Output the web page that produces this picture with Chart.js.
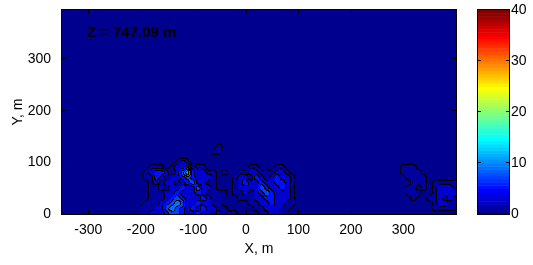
<!DOCTYPE html>
<html>
<head>
<meta charset="utf-8">
<script src="https://cdn.jsdelivr.net/npm/chart.js@4.4.1/dist/chart.umd.min.js"></script>
<style>
  html, body { margin: 0; padding: 0; background: #fff; }
  #wrap { width: 533px; height: 265px; }
</style>
</head>
<body>
<div id="wrap"><canvas id="myChart" width="533" height="265"></canvas></div>
<script>
// tengelyek
const xTicks = [-300, -200, -100, 0, 100, 200, 300];
const yTicks = [0, 100, 200, 300];
const cTicks = [0, 10, 20, 30, 40];
const contourLevels = [1, 3, 5, 7, 9, 11, 13, 15, 17, 19, 21, 23, 25, 27, 29, 31, 33, 35, 37, 39];
const planeLabel = 'Z = 747.09 m';

// mért értékek 10 m-es rácson, sorok felülről lefelé
// A folt: x = -200 ... -30, y = 130 ... 0
const blobA_x0 = -200;
const blobA_yTop = 130;
const blobA = [
    [0, 0, 0, 0, 0, 0, 0, 0, 0, 0, 0, 0, 0, 0, 0, 2, 0, 0],
    [0, 0, 0, 0, 0, 0, 0, 0, 0, 0, 0, 0, 0, 0, 2, 2, 0, 0],
    [0, 0, 0, 0, 0, 0, 0, 0, 0, 0, 0, 0, 0, 0, 0, 0, 0, 0],
    [0, 0, 0, 0, 0, 0, 0, 2, 4, 2, 0, 0, 0, 0, 0, 0, 0, 0],
    [0, 0, 2, 2, 2, 0, 2, 4, 4, 6, 4, 2, 2, 0, 0, 0, 0, 0],
    [0, 2, 4, 6, 6, 4, 2, 4, 8, 12, 6, 4, 4, 2, 2, 0, 2, 0],
    [0, 2, 2, 6, 4, 2, 4, 4, 6, 8, 6, 4, 4, 4, 2, 0, 0, 0],
    [0, 0, 2, 4, 2, 4, 4, 2, 4, 6, 8, 4, 4, 2, 2, 0, 0, 0],
    [0, 0, 2, 2, 4, 2, 4, 4, 6, 4, 4, 8, 4, 4, 2, 0, 0, 0],
    [0, 0, 2, 2, 2, 4, 4, 6, 4, 4, 4, 6, 4, 2, 2, 2, 2, 0],
    [0, 0, 2, 2, 2, 4, 6, 8, 6, 4, 4, 4, 6, 4, 2, 2, 0, 0],
    [0, 2, 2, 2, 4, 6, 8, 10, 8, 4, 4, 6, 4, 4, 2, 2, 0, 0],
    [2, 2, 2, 4, 4, 8, 10, 8, 6, 4, 6, 4, 6, 4, 4, 2, 2, 0],
    [2, 2, 4, 4, 4, 6, 8, 8, 6, 4, 4, 6, 4, 4, 2, 4, 2, 2]
];

// B folt: x = -20 ... 100, y = 100 ... 0
const blobB_x0 = -20;
const blobB_yTop = 100;
const blobB = [
    [0, 0, 0, 0, 0, 0, 0, 0, 0, 0, 0, 0, 0],
    [0, 0, 0, 2, 2, 0, 0, 0, 2, 2, 0, 0, 0],
    [0, 2, 2, 4, 4, 2, 2, 2, 4, 4, 2, 0, 0],
    [2, 4, 4, 2, 6, 4, 2, 4, 6, 4, 4, 2, 0],
    [2, 4, 6, 4, 4, 6, 4, 4, 6, 6, 4, 2, 0],
    [2, 4, 4, 4, 4, 8, 6, 4, 4, 6, 4, 2, 0],
    [2, 2, 4, 2, 4, 6, 8, 6, 4, 4, 4, 2, 0],
    [0, 2, 2, 2, 4, 4, 6, 6, 4, 4, 4, 2, 0],
    [0, 0, 0, 2, 2, 4, 4, 6, 4, 4, 2, 2, 0],
    [0, 0, 0, 0, 2, 2, 4, 4, 4, 2, 2, 0, 0],
    [2, 0, 0, 0, 0, 2, 2, 4, 4, 2, 0, 0, 0]
];

// C folt: x = 290 ... 400, y = 100 ... 0
const blobC_x0 = 290;
const blobC_yTop = 100;
const blobC = [
    [0, 0, 0, 0, 0, 0, 0, 0, 0, 0, 0, 0],
    [0, 2, 2, 2, 0, 0, 0, 0, 0, 0, 0, 0],
    [0, 2, 1, 2, 2, 0, 0, 0, 0, 0, 0, 0],
    [0, 0, 2, 2, 2, 2, 0, 0, 0, 0, 0, 0],
    [0, 0, 0, 2, 2, 2, 0, 2, 2, 2, 2, 2],
    [0, 0, 2, 2, 0, 2, 0, 2, 4, 4, 4, 2],
    [0, 0, 2, 2, 2, 0, 0, 2, 4, 4, 4, 4],
    [0, 0, 0, 2, 0, 0, 2, 2, 4, 2, 4, 2],
    [0, 0, 0, 0, 0, 0, 0, 2, 4, 4, 2, 2],
    [0, 0, 0, 0, 0, 0, 0, 2, 2, 2, 2, 2],
    [0, 0, 0, 0, 0, 0, 0, 0, 0, 0, 0, 0]
];

const xMin = -350, xMax = 400, yMin = 0, yMax = 395, cMax = 40;
const step = 10;

// teljes rács összerakása
const nx = (xMax - xMin) / step + 1;
const ny = 41;
const field = [];
for (let j = 0; j < ny; j++) field.push(new Array(nx).fill(0));

const paste = (rows, x0, yTop) => {
    rows.forEach((row, r) => {
        const j = (yTop - r * step) / step;
        row.forEach((v, c) => {
            const i = (x0 + c * step - xMin) / step;
            field[j][i] = v;
        });
    });
};
paste(blobA, blobA_x0, blobA_yTop);
paste(blobB, blobB_x0, blobB_yTop);
paste(blobC, blobC_x0, blobC_yTop);

// Catmull-Rom interpoláció a rácspontok között
const cr = (p0, p1, p2, p3, t) =>
    0.5 * (2 * p1 + (-p0 + p2) * t + (2 * p0 - 5 * p1 + 4 * p2 - p3) * t * t + (-p0 + 3 * p1 - 3 * p2 + p3) * t * t * t);
const node = (i, j) => field[Math.min(ny - 1, Math.max(0, j))][Math.min(nx - 1, Math.max(0, i))];
const sample = (x, y) => {
    let fx = (x - xMin) / step, fy = (y - yMin) / step;
    fx = Math.min(Math.max(fx, 0), nx - 1.0001);
    fy = Math.min(Math.max(fy, 0), ny - 1.0001);
    const i = Math.floor(fx), j = Math.floor(fy);
    const tx = fx - i, ty = fy - j;
    const rows = [];
    for (let m = -1; m <= 2; m++) {
        rows.push(cr(node(i - 1, j + m), node(i, j + m), node(i + 1, j + m), node(i + 2, j + m), tx));
    }
    return cr(rows[0], rows[1], rows[2], rows[3], ty);
};

// matlab jet(64)
const clamp = (v) => Math.min(1, Math.max(0, v));
const jet64 = (k) => {
    const x = (k + 1) / 64;
    return [
        Math.round(255 * clamp(Math.min(4 * x - 1.5, -4 * x + 4.5))),
        Math.round(255 * clamp(Math.min(4 * x - 0.5, -4 * x + 3.5))),
        Math.round(255 * clamp(Math.min(4 * x + 0.5, -4 * x + 2.5)))
    ];
};
const bandColors = [jet64(0)].concat(contourLevels.map(l => jet64(Math.min(63, Math.floor(l / cMax * 64)))));
const bandOf = (v) => {
    let b = 0;
    while (b < contourLevels.length && v >= contourLevels[b]) b++;
    return b;
};

const contourPlugin = {
    id: 'contourPlugin',
    afterDatasetsDraw(chart) {
        const ctx = chart.ctx;
        const { left, top, right, bottom } = chart.chartArea;
        const sx = chart.scales.x, sy = chart.scales.y, sc = chart.scales.c;
        const dpr = chart.currentDevicePixelRatio || 1;
        const w = Math.round((right - left) * dpr), h = Math.round((bottom - top) * dpr);

        const xs = [], ys = [];
        for (let i = 0; i < w; i++) xs.push(sx.getValueForPixel(left + (i + 0.5) / dpr));
        for (let j = 0; j < h; j++) ys.push(sy.getValueForPixel(top + (j + 0.5) / dpr));

        const bands = new Uint8Array(w * h);
        for (let j = 0; j < h; j++) {
            for (let i = 0; i < w; i++) bands[j * w + i] = bandOf(sample(xs[i], ys[j]));
        }
        const img = ctx.createImageData(w, h);
        for (let j = 0; j < h; j++) {
            for (let i = 0; i < w; i++) {
                const p = j * w + i;
                const b = bands[p];
                let edge = false;
                if (i < w - 1 && bands[p + 1] !== b) edge = true;
                if (j < h - 1 && bands[p + w] !== b) edge = true;
                const col = edge ? [0, 0, 0] : bandColors[b];
                img.data[p * 4] = col[0];
                img.data[p * 4 + 1] = col[1];
                img.data[p * 4 + 2] = col[2];
                img.data[p * 4 + 3] = 255;
            }
        }
        ctx.putImageData(img, Math.round(left * dpr), Math.round(top * dpr));

        ctx.save();
        ctx.strokeStyle = '#000';
        ctx.lineWidth = 1;
        ctx.strokeRect(left - 0.5, top - 0.5, right - left + 1, bottom - top + 1);

        // befelé mutató osztások
        const tk = 4;
        ctx.beginPath();
        xTicks.forEach(v => {
            const px = Math.round(sx.getPixelForValue(v)) + 0.5;
            ctx.moveTo(px, bottom); ctx.lineTo(px, bottom - tk);
            ctx.moveTo(px, top); ctx.lineTo(px, top + tk);
        });
        yTicks.forEach(v => {
            const py = Math.round(sy.getPixelForValue(v)) - 0.5;
            ctx.moveTo(left, py); ctx.lineTo(left + tk, py);
            ctx.moveTo(right, py); ctx.lineTo(right - tk, py);
        });
        ctx.stroke();

        ctx.fillStyle = '#000';
        ctx.font = 'bold 15px "Liberation Sans", Arial, sans-serif';
        ctx.textAlign = 'left';
        ctx.textBaseline = 'alphabetic';
        ctx.fillText(planeLabel, sx.getPixelForValue(-303), sy.getPixelForValue(343));

        // színskála
        const cbL = 478, cbR = 509;
        for (let k = 0; k < 64; k++) {
            const y0 = sc.getPixelForValue((k + 1) * cMax / 64);
            const y1 = sc.getPixelForValue(k * cMax / 64);
            const c = jet64(k);
            ctx.fillStyle = `rgb(${c[0]}, ${c[1]}, ${c[2]})`;
            ctx.fillRect(cbL, y0, cbR - cbL, y1 - y0 + 0.5);
        }
        const cTop = sc.getPixelForValue(cMax), cBot = sc.getPixelForValue(0);
        ctx.strokeRect(cbL - 0.5, cTop - 0.5, cbR - cbL + 1, cBot - cTop + 1);
        ctx.beginPath();
        cTicks.forEach(v => {
            const py = Math.round(sc.getPixelForValue(v)) - 0.5;
            ctx.moveTo(cbL, py); ctx.lineTo(cbL + 3, py);
            ctx.moveTo(cbR, py); ctx.lineTo(cbR - 3, py);
        });
        ctx.stroke();
        ctx.restore();
    }
};

const tickFont = { family: '"Liberation Sans", Arial, sans-serif', size: 14 };

// a tengelyek ne kérjenek plusz helyet a rajzterület körül
const fixBox = (size) => (scale) => {
    if (scale.isHorizontal()) scale.height = size; else scale.width = size;
    scale.paddingTop = 0;
    scale.paddingBottom = 0;
    scale.paddingLeft = 0;
    scale.paddingRight = 0;
};

const config = {
    type: 'scatter',
    data: { datasets: [{ data: [] }] },
    options: {
        responsive: false,
        animation: false,
        events: [],
        layout: { padding: { top: 10, left: 0, right: 0, bottom: 0 } },
        plugins: { legend: { display: false }, tooltip: { enabled: false } },
        scales: {
            x: {
                type: 'linear', min: xMin, max: xMax,
                afterBuildTicks: (scale) => { scale.ticks = xTicks.map(v => ({ value: v })); },
                afterFit: fixBox(51),
                grid: { display: false, drawTicks: false },
                border: { display: false },
                ticks: { color: '#000', font: tickFont, padding: 8, maxRotation: 0 },
                title: { display: true, text: 'X, m', color: '#000', font: tickFont, padding: { top: 0, bottom: 7 } }
            },
            y: {
                type: 'linear', position: 'left', min: yMin, max: yMax,
                afterBuildTicks: (scale) => { scale.ticks = yTicks.map(v => ({ value: v })); },
                afterFit: fixBox(62),
                grid: { display: false, drawTicks: false },
                border: { display: false },
                ticks: { color: '#000', font: tickFont, padding: 11 },
                title: { display: true, text: 'Y, m', color: '#000', font: tickFont, padding: { top: 10, bottom: 0 } }
            },
            c: {
                type: 'linear', position: 'right', min: 0, max: cMax,
                afterBuildTicks: (scale) => { scale.ticks = cTicks.map(v => ({ value: v })); },
                afterFit: fixBox(77),
                grid: { display: false, drawTicks: false },
                border: { display: false },
                ticks: { color: '#000', font: tickFont, padding: 55 }
            }
        }
    },
    plugins: [contourPlugin]
};

const myChart = new Chart(document.getElementById('myChart'), config);
</script>
</body>
</html>
